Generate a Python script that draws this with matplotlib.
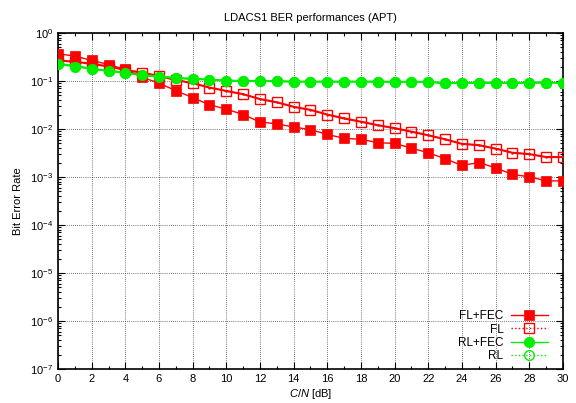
import numpy as np
import matplotlib.pyplot as plt
from matplotlib.ticker import FixedLocator, MultipleLocator, LogFormatterSciNotation

plt.rcParams['font.family'] = ['Liberation Sans', 'DejaVu Sans']
plt.rcParams['mathtext.fontset'] = 'custom'
plt.rcParams['mathtext.rm'] = 'Liberation Sans'
plt.rcParams['mathtext.it'] = 'Liberation Sans:italic'

# C/N in dB
cn = np.arange(0, 31)

# values
fl_fec = [0.37, 0.33, 0.27, 0.22, 0.175, 0.12, 0.09, 0.063, 0.045, 0.032,
          0.026, 0.020, 0.014, 0.0128, 0.011, 0.0097, 0.0077, 0.0064, 0.0061, 0.0052,
          0.0050, 0.0040, 0.0032, 0.0024, 0.00174, 0.0020, 0.00155, 0.00113, 0.00101, 0.00083,
          0.00083]
fl = [0.27, 0.25, 0.23, 0.20, 0.17, 0.149, 0.127, 0.105, 0.09, 0.073,
      0.062, 0.053, 0.042, 0.036, 0.029, 0.025, 0.020, 0.0166, 0.0142, 0.012,
      0.0104, 0.0088, 0.0074, 0.0061, 0.0049, 0.0046, 0.0039, 0.0032, 0.0030, 0.0026,
      0.0026]
rl_fec = [0.222, 0.20, 0.178, 0.161, 0.149, 0.131, 0.123, 0.115, 0.110, 0.107,
          0.101, 0.100, 0.100, 0.099, 0.097, 0.097, 0.097, 0.097, 0.097, 0.097,
          0.096, 0.096, 0.096, 0.089, 0.092, 0.090, 0.092, 0.091, 0.092, 0.093,
          0.091]
rl = [0.230, 0.205, 0.180, 0.163, 0.150, 0.132, 0.124, 0.116, 0.111, 0.107,
      0.102, 0.100, 0.100, 0.099, 0.097, 0.097, 0.097, 0.097, 0.097, 0.097,
      0.096, 0.096, 0.096, 0.090, 0.092, 0.091, 0.092, 0.091, 0.092, 0.093,
      0.091]

red = '#ff0000'
green = '#00ee00'

fig = plt.figure(figsize=(5.76, 4.03), dpi=100)
ax = fig.add_axes([0.1007, 0.0844, 0.8767, 0.8337])

ax.plot(cn, fl_fec, '-', color=red, lw=1, marker='s', ms=6.5, mfc=red, mec=red,
        mew=0.5, label='FL+FEC', zorder=4)
ax.plot(cn, fl, ':', color=red, lw=1, marker='s', ms=6.5, mfc='none', mec=red,
        mew=1, label='FL', zorder=3)
ax.plot(cn, rl_fec, '-', color=green, lw=1, marker='o', ms=7.5, mfc=green, mec=green,
        mew=0.5, label='RL+FEC', zorder=4)
ax.plot(cn, rl, ':', color=green, lw=1, marker='o', ms=7, mfc='none', mec=green,
        mew=1, label='RL', zorder=3)
# gnuplot draws a dot in the centre of open points
ax.plot(cn, fl, 'none', marker='.', ms=1.5, color=red, zorder=3)
ax.plot(cn, rl, 'none', marker='.', ms=1.5, color=green, zorder=3)

ax.set_yscale('log')
ax.set_xlim(0, 30)
ax.set_ylim(1e-7, 1)
ax.xaxis.set_major_locator(MultipleLocator(2))
ax.xaxis.set_minor_locator(MultipleLocator(1))
decades = 10.0 ** np.arange(-7, 1)
ax.yaxis.set_major_locator(FixedLocator(decades))
ax.yaxis.set_major_formatter(LogFormatterSciNotation())
ax.yaxis.set_minor_locator(FixedLocator([d * k for d in decades[:-1] for k in range(2, 10)]))
ax.yaxis.set_minor_formatter(plt.NullFormatter())

ax.tick_params(which='both', direction='in', top=True, right=True, labelsize=8, width=0.8)
ax.tick_params(which='major', length=5)
ax.tick_params(which='minor', length=2.5)
ax.grid(True, which='major', color='black', ls=(0, (1, 2)), lw=0.5)
for s in ax.spines.values():
    s.set_linewidth(1.2)

ax.set_title('LDACS1 BER performances (APT)', fontsize=8, pad=9)
ax.set_xlabel('$C/N$ [dB]', fontsize=8, labelpad=2)
ax.set_ylabel('Bit Error Rate', fontsize=8, labelpad=5)

h, l = ax.get_legend_handles_labels()
ax.legend(h[:4], l[:4], loc='lower right', frameon=False, markerfirst=False,
          fontsize=8.5, handlelength=3.2, labelspacing=0.1, handletextpad=0.6,
          borderaxespad=0.2, bbox_to_anchor=(0.985, 0.0))

fig.savefig('out.png', dpi=100)
